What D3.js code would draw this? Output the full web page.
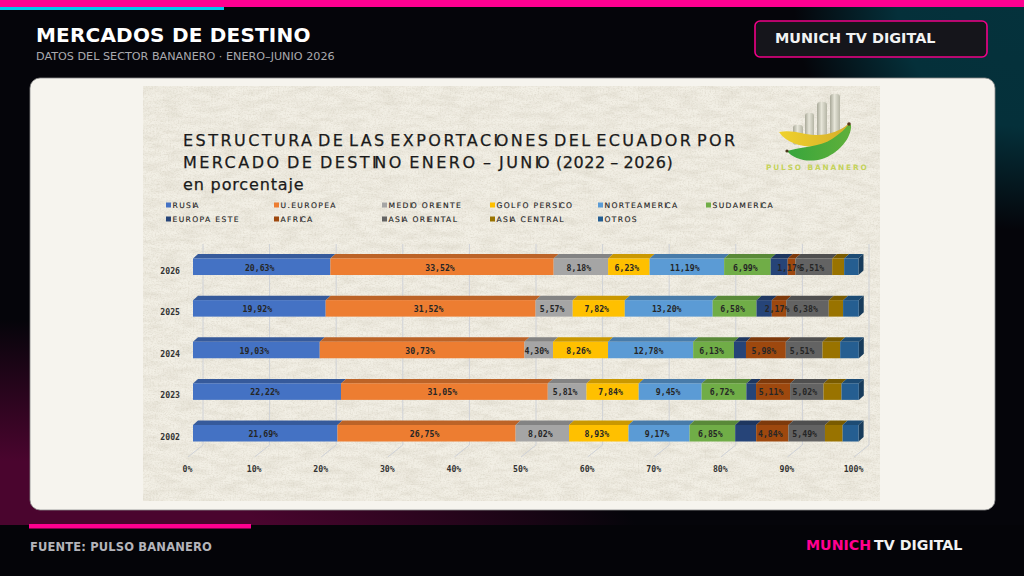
<!DOCTYPE html>
<html>
<head>
<meta charset="utf-8">
<script src="https://cdn.jsdelivr.net/npm/d3@7"></script>
<style>
  html, body { margin: 0; padding: 0; width: 1024px; height: 576px; overflow: hidden; background: #05050a; }
  text { font-family: "DejaVu Sans", sans-serif; }
</style>
</head>
<body>
<script>
// Chart data
const years = ["2026", "2025", "2024", "2023", "2002"];
const markets = ["RUSIA", "U.EUROPEA", "MEDIO ORIENTE", "GOLFO PERSICO", "NORTEAMERICA", "SUDAMERICA",
    "EUROPA ESTE", "AFRICA", "ASIA ORIENTAL", "ASIA CENTRAL", "OTROS"];
const rusia = [20.63, 19.92, 19.03, 22.22, 21.69];
const uEuropea = [33.52, 31.52, 30.73, 31.05, 26.75];
const medioOriente = [8.18, 5.57, 4.30, 5.81, 8.02];
const golfoPersico = [6.23, 7.82, 8.26, 7.84, 8.93];
const norteamerica = [11.19, 13.20, 12.78, 9.45, 9.17];
const sudamerica = [6.99, 6.58, 6.13, 6.72, 6.85];
const europaEste = [2.55, 2.30, 1.80, 1.45, 3.15];
const africa = [1.17, 2.17, 5.98, 5.11, 4.84];
const asiaOriental = [5.51, 6.38, 5.51, 5.02, 5.49];
const asiaCentral = [1.80, 2.15, 2.65, 2.70, 2.65];
const otros = [2.15, 2.35, 2.80, 2.60, 2.40];
const seriesValues = [rusia, uEuropea, medioOriente, golfoPersico, norteamerica, sudamerica,
    europaEste, africa, asiaOriental, asiaCentral, otros];
const colors = ["#4472c4", "#ed7d31", "#a5a5a5", "#ffc000", "#5b9bd5", "#70ad47",
    "#264478", "#9e480e", "#636363", "#997300", "#255e91"];
// markets whose values are printed on the bars
const labelled = [0, 1, 2, 3, 4, 5, 7, 8];
const xTicks = [0, 10, 20, 30, 40, 50, 60, 70, 80, 90, 100];

const darkPink = "#ff0090";

const svg = d3.select("body").append("svg")
    .attr("width", 1024)
    .attr("height", 576)
    .style("display", "block");

const defs = svg.append("defs");

// Page background glows
let tealGlow = defs.append("radialGradient").attr("id", "tealGlow");
tealGlow.append("stop").attr("offset", "0%").attr("stop-color", "#05323c");
tealGlow.append("stop").attr("offset", "55%").attr("stop-color", "#05303a");
tealGlow.append("stop").attr("offset", "100%").attr("stop-color", "#05050a");

let pinkGlow = defs.append("radialGradient").attr("id", "pinkGlow");
pinkGlow.append("stop").attr("offset", "0%").attr("stop-color", "#4a052e");
pinkGlow.append("stop").attr("offset", "45%").attr("stop-color", "#4a052e");
pinkGlow.append("stop").attr("offset", "100%").attr("stop-color", "#05050a");

svg.append("rect").attr("width", 1024).attr("height", 576).attr("fill", "#05050a");
svg.append("rect").attr("x", 794).attr("y", -230).attr("width", 460).attr("height", 460).attr("fill", "url(#tealGlow)");
svg.append("rect").attr("x", -650).attr("y", 320).attr("width", 1300).attr("height", 512).attr("fill", "url(#pinkGlow)");
svg.append("rect").attr("y", 525).attr("width", 1024).attr("height", 51).attr("fill", "#040408");

// Top bars
svg.append("rect").attr("width", 1024).attr("height", 7).attr("fill", darkPink);
svg.append("rect").attr("y", 7).attr("width", 224).attr("height", 3).attr("fill", "#00c8ee");

// Header
svg.append("text").attr("x", 36).attr("y", 41.5).attr("fill", "#fff")
    .attr("font-size", 20).attr("font-weight", "bold").attr("letter-spacing", 0.2)
    .text("MERCADOS DE DESTINO");
svg.append("text").attr("x", 36).attr("y", 59.5).attr("fill", "#a9a9ae")
    .attr("font-size", 11.2)
    .text("DATOS DEL SECTOR BANANERO · ENERO–JUNIO 2026");

svg.append("rect").attr("x", 755).attr("y", 21).attr("width", 232).attr("height", 36).attr("rx", 5)
    .attr("fill", "#15151b").attr("stroke", "#f00088").attr("stroke-width", 1.6);
svg.append("text").attr("x", 775).attr("y", 43).attr("fill", "#f2f2f2")
    .attr("font-size", 14.4).attr("font-weight", "bold")
    .text("MUNICH TV DIGITAL");

// White card
svg.append("rect").attr("x", 30).attr("y", 78).attr("width", 965).attr("height", 432).attr("rx", 10)
    .attr("fill", "#f6f4ee").attr("stroke", "#8a8a8a").attr("stroke-width", 0.8);

// Paper texture: long soft fibres plus a fine grain
const noiseFilter = (id, freq, seed, alpha) => {
    let f = defs.append("filter").attr("id", id)
        .attr("x", 0).attr("y", 0).attr("width", "100%").attr("height", "100%");
    f.append("feTurbulence").attr("type", "fractalNoise")
        .attr("baseFrequency", freq).attr("numOctaves", 4).attr("seed", seed);
    f.append("feColorMatrix").attr("type", "matrix")
        .attr("values", `0 0 0 0 0.52  0 0 0 0 0.48  0 0 0 0 0.38  ${alpha}`);
};
noiseFilter("fibres", "0.05 0.16", 7, "1.6 0 0 0 -0.6");
noiseFilter("grain", "0.6 0.7", 3, "0 1.8 0 0 -0.75");
const paperBox = (g) => g.attr("x", 143).attr("y", 86).attr("width", 737).attr("height", 415);
svg.append("rect").call(paperBox).attr("fill", "#f2efe5");
svg.append("rect").call(paperBox).attr("filter", "url(#fibres)").attr("opacity", 0.3);
svg.append("rect").call(paperBox).attr("filter", "url(#grain)").attr("opacity", 0.35);

// Scales
const xBar = d3.scaleLinear().domain([0, 100]).range([193, 859]);
const yBar = d3.scalePoint().domain(years).range([258.5, 425]);
const barHeight = 16.5;
const depthX = 5;
const depthY = 4.5;

// Back gridlines and floor lines
const grid = svg.append("g").attr("stroke", "#cfd2d7").attr("stroke-width", 1).attr("fill", "none");
xTicks.forEach((t) => {
    let gx = xBar(t) + 10;
    grid.append("line").attr("x1", gx).attr("x2", gx).attr("y1", 244).attr("y2", 445);
    grid.append("line").attr("x1", gx).attr("x2", gx - 15).attr("y1", 445).attr("y2", 457);
});

const mono = "'DejaVu Sans Mono', monospace";

// Stacked 3D bars
const shade = (c, k) => d3.rgb(c).darker(k).formatHex();
years.forEach((year, yi) => {
    let cum = 0;
    let y = yBar(year);
    let row = svg.append("g");
    seriesValues.forEach((vals, si) => {
        let x0 = xBar(cum);
        let x1 = xBar(cum + vals[yi]);
        // top face
        row.append("path")
            .attr("d", `M${x0},${y}L${x0 + depthX},${y - depthY}L${x1 + depthX},${y - depthY}L${x1},${y}Z`)
            .attr("fill", shade(colors[si], 0.65));
        // side face on the last segment
        if (si === seriesValues.length - 1) {
            row.append("path")
                .attr("d", `M${x1},${y}L${x1 + depthX},${y - depthY}L${x1 + depthX},${y + barHeight - depthY}L${x1},${y + barHeight}Z`)
                .attr("fill", shade(colors[si], 1.3));
        }
        row.append("rect")
            .attr("x", x0).attr("y", y)
            .attr("width", x1 - x0).attr("height", barHeight)
            .attr("fill", colors[si]);
        cum += vals[yi];
    });
    // values, drawn after so they can overlap neighbours
    cum = 0;
    seriesValues.forEach((vals, si) => {
        if (labelled.includes(si)) {
            row.append("text")
                .attr("x", xBar(cum + vals[yi] / 2) - 2)
                .attr("y", y + 12)
                .attr("text-anchor", "middle")
                .attr("fill", "#262626")
                .style("font-family", mono)
                .attr("font-size", 8.2).attr("font-weight", "bold")
                .text(vals[yi].toFixed(2).replace(".", ",") + "%");
        }
        cum += vals[yi];
    });
    // year label
    svg.append("text")
        .attr("x", 180).attr("y", y + 15)
        .attr("text-anchor", "end")
        .attr("fill", "#333")
        .style("font-family", mono)
        .attr("font-size", 8.2).attr("font-weight", "bold")
        .text(year);
});

// X axis labels
const xLabels = d3.axisBottom(d3.scaleLinear().domain([0, 100]).range([187, 853]))
    .tickValues(xTicks).tickSize(0).tickFormat((d) => d + "%");
const xAxis = svg.append("g").attr("transform", "translate(0,463)").call(xLabels);
xAxis.select(".domain").remove();
xAxis.selectAll("text")
    .attr("fill", "#333")
    .style("font-family", mono)
    .attr("font-size", 8.2).attr("font-weight", "bold");

// The source image squeezes each letter I against the next one
const squeezeI = (str, gap) => Array.from(str)
    .map((c, i) => (i > 0 && str[i - 1] === "I" ? -gap : 0))
    .join(" ");

// Chart title
const titleLines = ["ESTRUCTURA DE LAS EXPORTACIONES DEL ECUADOR POR",
    "MERCADO DE DESTINO ENERO – JUNIO"];
const titleWordSpacing = [-4, -2];
titleLines.forEach((line, i) => {
    svg.append("text").attr("x", 183).attr("y", 146 + i * 22.2)
        .attr("fill", "#1a1a1a").attr("stroke", "#1a1a1a").attr("stroke-width", 0.25)
        .attr("font-size", 16).attr("letter-spacing", 2.45).attr("word-spacing", titleWordSpacing[i])
        .attr("dx", squeezeI(line, 5))
        .text(line);
});
svg.append("text").attr("x", 556).attr("y", 168.2)
    .attr("fill", "#1a1a1a").attr("stroke", "#1a1a1a").attr("stroke-width", 0.25)
    .attr("font-size", 16).attr("letter-spacing", 0.55).attr("word-spacing", -1)
    .text("(2022 – 2026)");
svg.append("text").attr("x", 183).attr("y", 190)
    .attr("fill", "#1a1a1a").attr("stroke", "#1a1a1a").attr("stroke-width", 0.25)
    .attr("font-size", 16).attr("letter-spacing", 0.85)
    .text("en porcentaje");

// Legend
const legendX = [166, 274, 382, 490, 598, 706];
markets.forEach((m, i) => {
    let lx = legendX[i % 6];
    let ly = i < 6 ? 205 : 219;
    svg.append("rect").attr("x", lx).attr("y", ly - 2.5).attr("width", 5).attr("height", 5).attr("fill", colors[i]);
    svg.append("text").attr("x", lx + 6.5).attr("y", ly + 2.8)
        .attr("fill", "#262626").attr("stroke", "#262626").attr("stroke-width", 0.15)
        .attr("font-size", 7.6).attr("letter-spacing", 1.35)
        .attr("dx", squeezeI(m, 2.6))
        .text(m);
});

// Logo: little column chart with two bananas
const logo = svg.append("g");
let colGrad = defs.append("linearGradient").attr("id", "colGrad");
colGrad.append("stop").attr("offset", "0%").attr("stop-color", "#a8a898");
colGrad.append("stop").attr("offset", "45%").attr("stop-color", "#e6e5d8");
colGrad.append("stop").attr("offset", "100%").attr("stop-color", "#b5b5a5");
[[793, 125, 10], [805, 113, 9], [817, 102, 10], [830, 94, 10]].forEach((c) => {
    logo.append("rect").attr("x", c[0]).attr("y", c[1]).attr("width", c[2]).attr("height", 145 - c[1])
        .attr("rx", 3).attr("fill", "url(#colGrad)");
});
let yellowGrad = defs.append("linearGradient").attr("id", "yellowGrad");
yellowGrad.append("stop").attr("offset", "0%").attr("stop-color", "#f0d22c");
yellowGrad.append("stop").attr("offset", "100%").attr("stop-color", "#d6ae2a");
let greenGrad = defs.append("linearGradient").attr("id", "greenGrad");
greenGrad.append("stop").attr("offset", "0%").attr("stop-color", "#37a53c");
greenGrad.append("stop").attr("offset", "100%").attr("stop-color", "#5fb03a");
logo.append("path").attr("d", "M779,132 C792,129 805,135 817,135 C830,135 842,130 848,124 C848,132 842,140 830,144 C815,149 790,148 779,132Z")
    .attr("fill", "url(#yellowGrad)");
logo.append("path").attr("d", "M787,151 C800,147 820,147 832,139 C840,134 846,128 849,124 L851,125 C852,138 838,154 822,159 C808,163 793,159 787,151Z")
    .attr("fill", "url(#greenGrad)");
logo.append("circle").attr("cx", 849).attr("cy", 124).attr("r", 1.8).attr("fill", "#5a3a1a");
logo.append("circle").attr("cx", 787).attr("cy", 151).attr("r", 1.6).attr("fill", "#4a3a1a");
logo.append("text").attr("x", 766).attr("y", 170)
    .attr("fill", "#c4d25c").attr("font-size", 7.4).attr("font-weight", "bold").attr("letter-spacing", 1.85)
    .text("PULSO BANANERO");

// Footer
svg.append("rect").attr("x", 29).attr("y", 524).attr("width", 222).attr("height", 4.5).attr("fill", darkPink);
svg.append("text").attr("x", 30).attr("y", 551).attr("fill", "#b4b4ba")
    .attr("font-size", 11.5).attr("font-weight", "bold").attr("letter-spacing", 0.16)
    .text("FUENTE: PULSO BANANERO");
let brand = svg.append("text").attr("x", 806).attr("y", 550)
    .attr("font-size", 14.2).attr("font-weight", "bold").attr("fill", "#f2f2f2");
brand.append("tspan").attr("fill", darkPink).text("MUNICH");
brand.append("tspan").attr("dx", 3).text("TV DIGITAL");
</script>
</body>
</html>
